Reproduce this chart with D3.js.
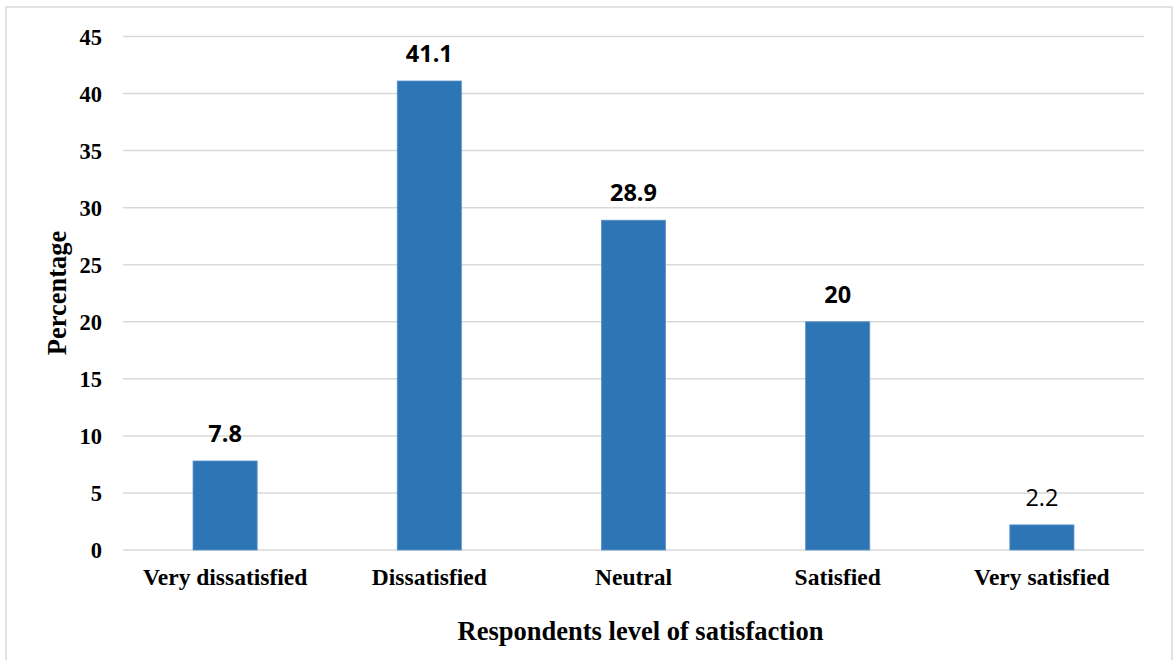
<!DOCTYPE html>
<html>
<head>
<meta charset="utf-8">
<script src="https://cdn.jsdelivr.net/npm/d3@7"></script>
<style>
  html, body { margin: 0; padding: 0; background: #fff; }
  svg { display: block; }
</style>
</head>
<body>
<svg id="chart" width="1176" height="660"></svg>
<script>
const categories = ["Very dissatisfied", "Dissatisfied", "Neutral", "Satisfied", "Very satisfied"];
const values = [7.8, 41.1, 28.9, 20, 2.2];
const valueLabels = ["7.8", "41.1", "28.9", "20", "2.2"];
const boldLabel = [true, true, true, true, false];
const yTicks = [0, 5, 10, 15, 20, 25, 30, 35, 40, 45];
const xTitle = "Respondents level of satisfaction";
const yTitle = "Percentage";

const svg = d3.select("#chart");
const plotL = 123, plotR = 1144, plotT = 36.5, plotB = 550;

// frame
svg.append("rect")
  .attr("x", 6).attr("y", 7)
  .attr("width", 1166).attr("height", 660)
  .attr("fill", "#fff")
  .attr("stroke", "#d9d9d9").attr("stroke-width", 1.5);

const x = d3.scaleBand().domain(categories).range([plotL, plotR]).paddingInner(0.686).paddingOuter(0.343);
const y = d3.scaleLinear().domain([0, 45]).range([plotB, plotT]);

// gridlines
svg.append("g")
  .selectAll("line")
  .data(yTicks)
  .join("line")
  .attr("x1", plotL).attr("x2", plotR)
  .attr("y1", d => y(d)).attr("y2", d => y(d))
  .attr("stroke", "#d9d9d9").attr("stroke-width", 1.5);

// y axis labels
const yAxis = d3.axisLeft(y).tickValues(yTicks).tickSize(0).tickPadding(21);
const gy = svg.append("g").attr("transform", `translate(${plotL},0)`).call(yAxis);
gy.select(".domain").remove();
gy.selectAll("text")
  .attr("font-family", "'Liberation Serif', 'Times New Roman', serif")
  .attr("font-weight", "bold")
  .attr("font-size", 22.5)
  .attr("fill", "#000")
  .attr("dy", "0.35em");

// bars
svg.append("g")
  .selectAll("rect")
  .data(values)
  .join("rect")
  .attr("x", (d, i) => x(categories[i]))
  .attr("width", x.bandwidth())
  .attr("y", d => y(d))
  .attr("height", d => y(0) - y(d))
  .attr("fill", "#2e75b6")
  .attr("stroke", "#5a93c8")
  .attr("stroke-width", 0.8);

// value labels
svg.append("g")
  .selectAll("text")
  .data(values)
  .join("text")
  .attr("x", (d, i) => x(categories[i]) + x.bandwidth() / 2)
  .attr("y", d => y(d) - 19)
  .attr("text-anchor", "middle")
  .attr("font-family", "'Open Sans', 'Liberation Sans', sans-serif")
  .attr("font-weight", (d, i) => boldLabel[i] ? "bold" : "normal")
  .attr("font-size", 23.5)
  .attr("fill", "#000")
  .text((d, i) => valueLabels[i]);

// x axis labels
const xAxis = d3.axisBottom(x).tickSize(0).tickPadding(18);
const gx = svg.append("g").attr("transform", `translate(0,${plotB})`).call(xAxis);
gx.select(".domain").remove();
gx.selectAll("text")
  .attr("font-family", "'Liberation Serif', 'Times New Roman', serif")
  .attr("font-weight", "bold")
  .attr("font-size", 23.5)
  .attr("fill", "#000");

// axis titles
svg.append("text")
  .attr("x", (plotL + plotR) / 2 + 7)
  .attr("y", 640)
  .attr("text-anchor", "middle")
  .attr("font-family", "'Liberation Serif', 'Times New Roman', serif")
  .attr("font-weight", "bold")
  .attr("font-size", 26.5)
  .attr("fill", "#000")
  .text(xTitle);

svg.append("text")
  .attr("transform", "translate(66,293) rotate(-90)")
  .attr("text-anchor", "middle")
  .attr("font-family", "'Liberation Serif', 'Times New Roman', serif")
  .attr("font-weight", "bold")
  .attr("font-size", 26.5)
  .attr("fill", "#000")
  .text(yTitle);
</script>
</body>
</html>
